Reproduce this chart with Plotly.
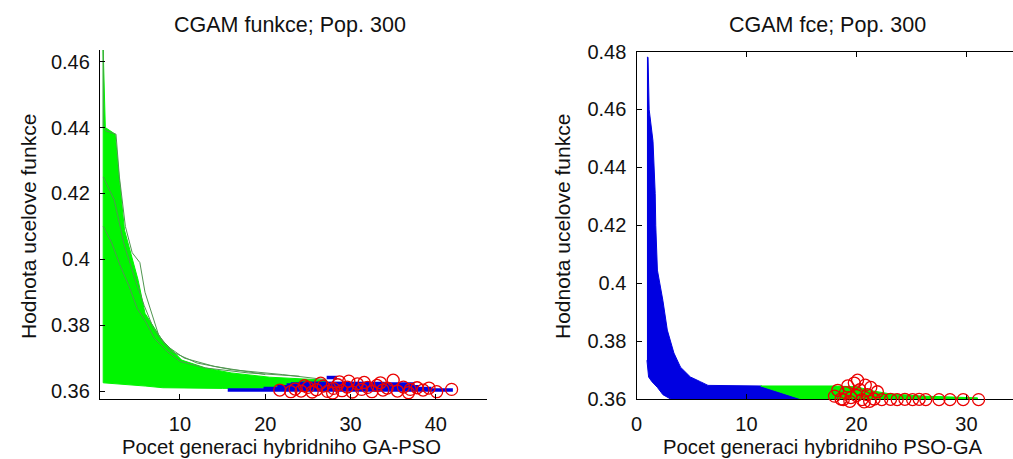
import plotly.graph_objects as go

# ---------------- Left panel: hybrid GA-PSO ----------------
ga1_env_x = [1.0, 1.0, 1.25, 2.4, 2.9, 3.5, 5.1, 5.9, 7.9, 10.2, 13.0, 16.0, 20.5, 27.2, 27.2, 20.0, 15.0, 8.0, 6.0, 3.0, 1.0]
ga1_env_y = [0.3625, 0.4636, 0.440, 0.438, 0.424, 0.4088, 0.3936, 0.3836, 0.3755, 0.3694, 0.3670, 0.3655, 0.3642, 0.3633,
             0.3615, 0.3609, 0.3608, 0.3610, 0.3615, 0.3622, 0.3625]
ga1_run1_x = [1.0, 1.0, 1.3, 2.5, 2.9, 3.6, 4.4, 5.3, 5.9, 6.8, 7.5, 9.0, 12.0, 16.0, 22.0, 27.0]
ga1_run1_y = [0.4636, 0.440, 0.439, 0.438, 0.425, 0.410, 0.402, 0.399, 0.390, 0.383, 0.377, 0.372, 0.3685, 0.3665, 0.3650, 0.3635]
ga1_run2_x = [1.0, 2.0, 3.0, 4.0, 5.0, 6.0, 7.0, 8.5, 10.0, 13.0, 18.0, 24.0]
ga1_run2_y = [0.410, 0.405, 0.398, 0.392, 0.385, 0.381, 0.376, 0.372, 0.369, 0.367, 0.3655, 0.3645]
ga1_run3_x = [1.0, 2.3, 3.4, 4.6, 5.8, 6.9, 8.3, 10.5, 14.0, 20.0]
ga1_run3_y = [0.425, 0.418, 0.405, 0.395, 0.386, 0.379, 0.374, 0.370, 0.3675, 0.3650]
pso1_runs_x = [[15.6, 42.0], [19.8, 39.5], [21.4, 38.0], [22.5, 36.5], [23.0, 37.5], [24.0, 34.0], [27.2, 28.4]]
pso1_runs_y = [[0.3603, 0.3603], [0.3608, 0.3608], [0.3613, 0.3613], [0.3618, 0.3618], [0.3621, 0.3621],
               [0.3624, 0.3623], [0.3641, 0.3641]]
end1_x = [21.7, 23.0, 23.5, 24.2, 25.0, 25.5, 26.0, 26.8, 27.3, 28.0, 28.5, 29.0, 29.6, 30.2, 30.8, 31.3, 32.0, 32.5, 33.1,
          33.8, 34.3, 35.0, 35.5, 36.2, 37.0, 37.8, 38.5, 39.2, 40.1, 41.85, 26.5, 28.7, 31.6, 24.6, 33.5, 29.8, 27.9, 36.8]
end1_y = [0.3603, 0.3598, 0.3606, 0.3600, 0.3611, 0.3597, 0.3604, 0.3615, 0.3599, 0.3608, 0.3619, 0.3601, 0.3612, 0.3597,
          0.3622, 0.3605, 0.3611, 0.3598, 0.3617, 0.3603, 0.3609, 0.3633, 0.3600, 0.3612, 0.3605, 0.3610, 0.3603, 0.3609,
          0.3598, 0.3605, 0.3624, 0.3628, 0.3626, 0.3616, 0.3625, 0.3630, 0.3594, 0.3595]

# ---------------- Right panel: hybrid PSO-GA ----------------
pso2_env_x = [0.95, 1.05, 1.15, 1.5, 1.7, 1.75, 1.9, 2.4, 2.8, 3.4, 4.0, 4.9, 5.8, 6.5, 11.3, 15.0,
              3.1, 2.4, 1.9, 1.4, 1.1, 0.95]
pso2_env_y = [0.478, 0.478, 0.460, 0.449, 0.431, 0.420, 0.4045, 0.394, 0.3838, 0.3759, 0.3710, 0.3676, 0.3660, 0.3647,
              0.3645, 0.3600, 0.3600, 0.3615, 0.3640, 0.3660, 0.3676, 0.3734]
ga2_env_x = [11.3, 18.0, 20.0, 21.5, 23.0, 26.0, 31.0, 31.0, 15.0, 11.3]
ga2_env_y = [0.3645, 0.3645, 0.3642, 0.3628, 0.3618, 0.3610, 0.3604, 0.3600, 0.3600, 0.3645]
end2_x = [18.0, 18.3, 18.6, 19.0, 19.2, 19.5, 19.8, 20.1, 20.3, 20.5, 20.8, 21.0, 21.3, 21.6, 21.9, 18.8, 20.0, 19.4, 20.7,
          21.2, 22.3, 23.1, 23.7, 24.4, 25.1, 25.7, 26.3, 27.5, 28.5, 29.7, 31.1]
end2_y = [0.3610, 0.3630, 0.3600, 0.3622, 0.3645, 0.3605, 0.3655, 0.3665, 0.3632, 0.3598, 0.3648, 0.3615, 0.3640, 0.3600,
          0.3625, 0.3598, 0.3612, 0.3592, 0.3590, 0.3592, 0.3598, 0.3599, 0.3598, 0.3599, 0.3598, 0.3599, 0.3598, 0.3598,
          0.3598, 0.3598, 0.3598]

left_xticks = [10, 20, 30, 40]
left_yticks = [0.36, 0.38, 0.40, 0.42, 0.44, 0.46]
left_yticktext = ["0.36", "0.38", "0.4", "0.42", "0.44", "0.46"]
right_xticks = [0, 10, 20, 30]
right_yticks = [0.36, 0.38, 0.40, 0.42, 0.44, 0.46, 0.48]
right_yticktext = ["0.36", "0.38", "0.4", "0.42", "0.44", "0.46", "0.48"]

GREEN = "rgb(0,245,0)"
DKGREEN = "rgb(80,150,80)"
BLUE = "rgb(0,0,225)"
RED = "rgb(235,0,0)"
FONT = "Liberation Sans, Arial, sans-serif"

fig = go.Figure()
fig.add_trace(go.Scatter(x=ga1_env_x, y=ga1_env_y, mode="lines", fill="toself", fillcolor=GREEN,
                         line=dict(color=GREEN, width=1), xaxis="x", yaxis="y", showlegend=False))
for rx, ry in [(ga1_run1_x, ga1_run1_y), (ga1_run2_x, ga1_run2_y), (ga1_run3_x, ga1_run3_y)]:
    fig.add_trace(go.Scatter(x=rx, y=ry, mode="lines", line=dict(color=DKGREEN, width=1),
                             xaxis="x", yaxis="y", showlegend=False))
for rx, ry in zip(pso1_runs_x, pso1_runs_y):
    fig.add_trace(go.Scatter(x=rx, y=ry, mode="lines", line=dict(color=BLUE, width=3.5),
                             xaxis="x", yaxis="y", showlegend=False))
fig.add_trace(go.Scatter(x=end1_x, y=end1_y, mode="markers", cliponaxis=False,
                         marker=dict(symbol="circle-open", size=12, color=RED, line=dict(width=1.3, color=RED)),
                         xaxis="x", yaxis="y", showlegend=False))
fig.add_trace(go.Scatter(x=pso2_env_x, y=pso2_env_y, mode="lines", fill="toself", fillcolor=BLUE,
                         line=dict(color=BLUE, width=1), xaxis="x2", yaxis="y2", showlegend=False))
fig.add_trace(go.Scatter(x=ga2_env_x, y=ga2_env_y, mode="lines", fill="toself", fillcolor=GREEN,
                         line=dict(color=GREEN, width=1), xaxis="x2", yaxis="y2", showlegend=False))
fig.add_trace(go.Scatter(x=end2_x, y=end2_y, mode="markers", cliponaxis=False,
                         marker=dict(symbol="circle-open", size=12, color=RED, line=dict(width=1.3, color=RED)),
                         xaxis="x2", yaxis="y3", showlegend=False))

W, H = 1013, 459
def px_x(p): return p / W
def px_y(p): return (H - p) / H

axcommon = dict(showgrid=False, zeroline=False, showline=True, linecolor="black", linewidth=1.3,
                ticks="inside", ticklen=5, tickcolor="black", tickwidth=1.3, automargin=False,
                tickfont=dict(family=FONT, size=20, color="#111"))

# extra invisible axis for the end markers that sit just below the lower limit
y3_bottom_px = 412
y3_low = 0.36 - (y3_bottom_px - 399) / (399 - 51.5) * 0.12

fig.update_layout(
    template="none",
    width=W, height=H, margin=dict(l=0, r=0, t=0, b=0, pad=0), autosize=False,
    paper_bgcolor="white", plot_bgcolor="rgba(0,0,0,0)", showlegend=False,
    xaxis=dict(domain=[px_x(100), px_x(487)], range=[0.625, 46.0], tickmode="array", tickvals=left_xticks,
               anchor="y", ticklabelstandoff=7, **axcommon),
    yaxis=dict(domain=[px_y(399), px_y(50)], range=[0.35758, 0.46355], tickmode="array", tickvals=left_yticks,
               ticktext=left_yticktext, anchor="x", ticklabelstandoff=5, **axcommon),
    xaxis2=dict(domain=[px_x(636.5), 1.0], range=[0, 34.23], tickmode="array", tickvals=right_xticks,
                anchor="y2", mirror="ticks", ticklabelstandoff=7, **axcommon),
    yaxis2=dict(domain=[px_y(399), px_y(51.5)], range=[0.36, 0.48], tickmode="array", tickvals=right_yticks,
                ticktext=right_yticktext, anchor="x2", ticklabelstandoff=5, **axcommon),
    yaxis3=dict(domain=[px_y(y3_bottom_px), px_y(51.5)], range=[y3_low, 0.48], visible=False, anchor="x2",
                showgrid=False, zeroline=False),
)

annots = [
    dict(text="CGAM funkce; Pop. 300", x=px_x(290), y=px_y(25), size=21.5),
    dict(text="CGAM fce; Pop. 300", x=px_x(827), y=px_y(25), size=21.5),
    dict(text="Pocet generaci hybridniho GA-PSO", x=px_x(281.5), y=px_y(447), size=20.3),
    dict(text="Pocet generaci hybridniho PSO-GA", x=px_x(823), y=px_y(447), size=20.3),
    dict(text="Hodnota ucelove funkce", x=px_x(28), y=px_y(227), size=21, textangle=-90),
    dict(text="Hodnota ucelove funkce", x=px_x(562), y=px_y(227), size=21, textangle=-90),
]
for a in annots:
    size = a.pop("size")
    fig.add_annotation(xref="paper", yref="paper", xanchor="center", yanchor="middle",
                       showarrow=False, font=dict(family=FONT, size=size, color="#111"), **a)

fig.write_html("out.html")
